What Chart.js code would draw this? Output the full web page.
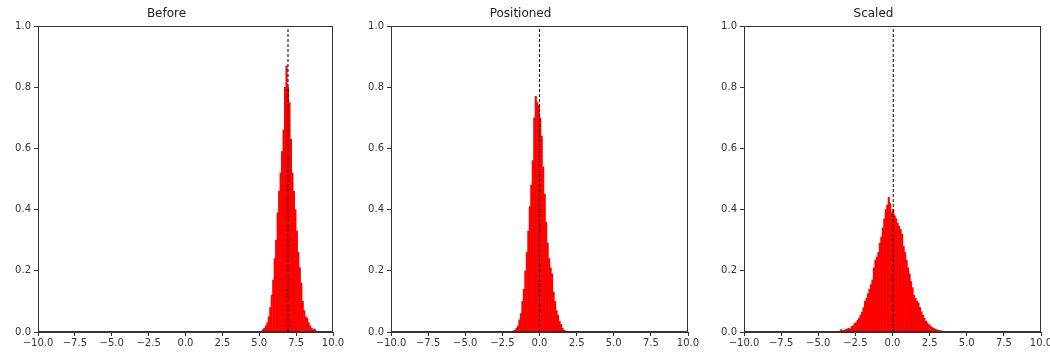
<!DOCTYPE html>
<html><head><meta charset="utf-8">
<script src="https://cdn.jsdelivr.net/npm/chart.js@4.4.1/dist/chart.umd.min.js"></script>
<style>
html,body{margin:0;padding:0;background:#fff;overflow:hidden;width:1050px;height:356px;}
canvas{position:absolute;top:0;}
</style></head><body>
<canvas id="c1" width="348" height="356" style="left:0px"></canvas>
<canvas id="c2" width="350" height="356" style="left:353px"></canvas>
<canvas id="c3" width="350" height="356" style="left:706px"></canvas>
<script>
// ---- data ----
const panelTitles = ['Before', 'Positioned', 'Scaled'];
const xTickValues = [-10, -7.5, -5, -2.5, 0, 2.5, 5, 7.5, 10];
const yTickValues = [0, 0.2, 0.4, 0.6, 0.8, 1.0];
const binWidth = 0.1;

const beforeFirstBin = 5.15;
const beforeDensity = [0.003,0.008,0.012,0.02,0.03,0.05,0.08,0.12,0.17,0.24,
  0.30,0.39,0.46,0.52,0.59,0.66,0.80,0.87,0.80,0.75,
  0.63,0.52,0.46,0.40,0.33,0.26,0.21,0.16,0.10,0.07,
  0.05,0.045,0.03,0.02,0.012,0.008,0.01,0.004];
const beforeMean = 6.95;

const positionedFirstBin = -1.85;
const positionedDensity = [0.002,0.004,0.006,0.012,0.02,0.04,0.06,0.10,0.14,0.20,
  0.26,0.33,0.41,0.48,0.56,0.70,0.77,0.75,0.74,
  0.70,0.64,0.54,0.45,0.36,0.29,0.24,0.21,0.19,0.13,
  0.10,0.07,0.055,0.035,0.025,0.012,0.006,0.004,0.002];
const positionedMean = 0.0;

const scaledFirstBin = -3.55;
const scaledDensity = [0.003,0.008,0.004,0.006,0.008,0.01,0.012,0.01,0.018,0.02,
  0.028,0.03,0.038,0.045,0.055,0.065,0.08,0.10,0.11,0.125,
  0.14,0.155,0.17,0.21,0.235,0.245,0.26,0.29,0.31,0.34,
  0.37,0.40,0.415,0.44,0.42,0.39,
  0.40,0.38,0.37,0.355,0.345,0.335,0.32,0.28,0.26,0.235,
  0.21,0.19,0.165,0.145,0.12,0.11,0.10,0.095,0.08,0.066,
  0.055,0.045,0.036,0.03,0.024,0.02,0.016,0.012,0.01,0.008,
  0.006,0.005,0.004,0.003,0.002];
const scaledMean = 0.05;

// ---- rendering ----
const FONT = 'DejaVu Sans';
const INK = '#333';
const fmt = v => Number(v).toFixed(1).replace('-', '\u2212');

const framePlugin = {
  id: 'frame',
  afterDraw(chart) {
    const {ctx, chartArea: a} = chart;
    ctx.save();
    ctx.strokeStyle = INK;
    ctx.lineWidth = 1;
    const l = Math.round(a.left) + 0.5, r = Math.round(a.right) - 0.5;
    const t = Math.round(a.top) + 0.5, b = Math.round(a.bottom) - 0.5;
    ctx.strokeRect(l, t, r - l, b - t);
    ctx.restore();
  }
};

function makeChart(id, title, firstBin, density, mean) {
  const bars = density.map((d, i) => ({x: +(firstBin + i * binWidth).toFixed(3), y: d}));
  new Chart(document.getElementById(id), {
    type: 'bar',
    data: {
      datasets: [
        {
          type: 'line',
          data: [{x: mean, y: yTickValues[0]}, {x: mean, y: yTickValues[yTickValues.length - 1]}],
          borderColor: '#000', borderWidth: 1, borderDash: [3, 2],
          pointRadius: 0, fill: false, order: 0
        },
        {
          type: 'bar',
          data: bars,
          backgroundColor: '#ff0000', borderWidth: 0,
          barPercentage: 1.0, categoryPercentage: 1.0, order: 1
        }
      ]
    },
    options: {
      responsive: false, animation: false, devicePixelRatio: 1,
      layout: {padding: {left: 0, right: 15, top: 0, bottom: 0}},
      plugins: {
        legend: {display: false}, tooltip: {enabled: false},
        title: {display: true, text: title, color: '#222',
          font: {family: FONT, size: 12, weight: 'normal'},
          padding: {top: 7, bottom: 4.6}}
      },
      scales: {
        x: {
          type: 'linear', min: xTickValues[0], max: xTickValues[xTickValues.length - 1], offset: false,
          afterBuildTicks: s => { s.ticks = xTickValues.map(v => ({value: v})); },
          afterFit: s => { s.height = 24; },
          grid: {display: true, drawOnChartArea: false, drawTicks: true, tickLength: 4, color: INK, offset: false},
          border: {display: true, color: INK, width: 1},
          ticks: {autoSkip: false, maxRotation: 0, padding: 1, color: INK,
            font: {family: FONT, size: 10}, callback: v => fmt(v)}
        },
        y: {
          type: 'linear', min: yTickValues[0], max: yTickValues[yTickValues.length - 1],
          afterBuildTicks: s => { s.ticks = yTickValues.map(v => ({value: v})); },
          afterFit: s => { s.width = 38; },
          grid: {display: true, drawOnChartArea: false, drawTicks: true, tickLength: 4, color: INK},
          border: {display: true, color: INK, width: 1},
          ticks: {autoSkip: false, padding: 3, color: INK,
            font: {family: FONT, size: 10}, callback: v => fmt(v)}
        }
      }
    },
    plugins: [framePlugin]
  });
}

makeChart('c1', panelTitles[0], beforeFirstBin, beforeDensity, beforeMean);
makeChart('c2', panelTitles[1], positionedFirstBin, positionedDensity, positionedMean);
makeChart('c3', panelTitles[2], scaledFirstBin, scaledDensity, scaledMean);
</script>
</body></html>
